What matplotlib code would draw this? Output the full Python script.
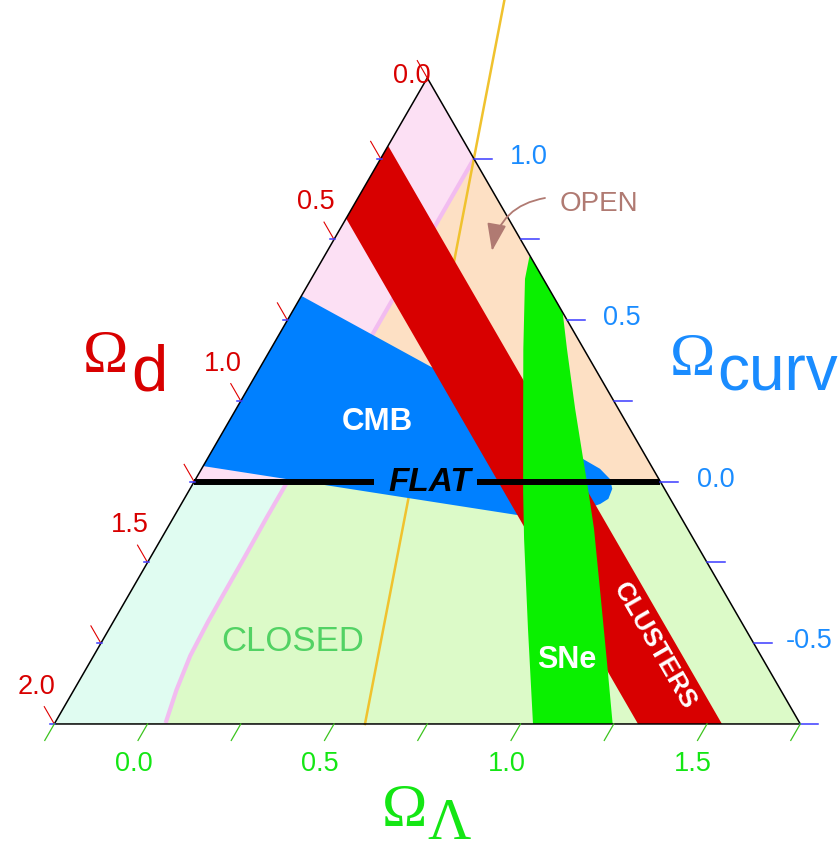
import numpy as np
import matplotlib.pyplot as plt
from matplotlib.patches import Polygon

# --- cosmic triangle data, all as (Omega_m, Omega_Lambda); Omega_k = 1 - Omega_m - Omega_Lambda ---
tri_om = [0.0, 2.0, 0.0]
tri_ol = [-0.25, -0.25, 1.75]

# expand forever / recollapse boundary
recollapse_om = [0.0, 1.0, 1.11, 1.23, 1.36, 1.43, 1.53, 1.62, 1.70]
recollapse_ol = [0.0, 0.0, 0.0, 0.002, 0.003, 0.004, 0.009, 0.025, 0.047]

# accelerating / decelerating boundary
accel_om = [-0.33, 1.167]
accel_ol = [-0.165, 0.583]

# cluster band in Omega_m
clusters_om = [0.21, 0.435]

# CMB region outline
cmb_om = [0.68, 0.430, 0.172, 0.142, 0.131, 0.140, 0.166, 0.196, 0.235, 0.318, 0.436, 1.21]
cmb_ol = [-0.26, 0.221, 0.758, 0.818, 0.861, 0.882, 0.887, 0.873, 0.847, 0.779, 0.667, -0.26]

# supernova region outline
sne_om = [0.004, 0.049, 0.162, 0.271, 0.384, 0.454, 0.583, 0.717,
          0.503, 0.421, 0.341, 0.251, 0.205, 0.172, 0.116, 0.045, -0.008, -0.103]
sne_ol = [0.301, 0.323, 0.427, 0.535, 0.648, 0.723, 0.873, 1.034,
          1.247, 1.134, 1.022, 0.895, 0.817, 0.758, 0.659, 0.544, 0.464, 0.321]

# axis ticks
om_ticks = [0.0, 0.25, 0.5, 0.75, 1.0, 1.25, 1.5, 1.75, 2.0]
om_labels = {0.0: '0.0', 0.5: '0.5', 1.0: '1.0', 1.5: '1.5', 2.0: '2.0'}
ok_ticks = [1.0, 0.75, 0.5, 0.25, 0.0, -0.25, -0.5, -0.75]
ok_labels = {1.0: '1.0', 0.5: '0.5', 0.0: '0.0', -0.5: '-0.5'}
ol_ticks = [-0.25, 0.0, 0.25, 0.5, 0.75, 1.0, 1.25, 1.5, 1.75]
ol_labels = {0.0: '0.0', 0.5: '0.5', 1.0: '1.0', 1.5: '1.5'}

# gap left in the flat line for its label (Omega_Lambda along Omega_k = 0)
flat_gap = (0.232, 0.509)

# colours
RED = '#d80000'
BLUE = '#0080ff'
SNE_GREEN = '#0af000'
PINK_BG = '#fce0f4'
PEACH_BG = '#fde0c4'
CYAN_BG = '#e0fcf1'
GREEN_BG = '#dcfac8'
PINK_LINE = '#f2bcf0'
ORANGE_LINE = '#f0c22e'
OPEN_COLOR = '#b07a72'
CLOSED_COLOR = '#52d264'
LBL_RED = '#d80000'
LBL_BLUE = '#1a8cff'
LBL_GREEN = '#14e614'

SANS = 'Liberation Sans'
SERIF = 'Liberation Serif'

SQ3 = np.sqrt(3.0)
S = 373.0              # pixels per unit
X0, Y0 = 473.9, 482.7  # pixel position of Omega_m = Omega_Lambda = 0.5
W, H = 840, 853


def tern(om, ol):
    om = np.asarray(om, float)
    ol = np.asarray(ol, float)
    ok = 1.0 - om - ol
    return 0.5 * (ol - om), SQ3 / 2 * ok


def at_px(px, py):
    return (px - X0) / S, (Y0 - py) / S


def poly(om, ol, **kw):
    x, y = tern(om, ol)
    return Polygon(np.column_stack([x, y]), closed=True, **kw)


fig = plt.figure(figsize=(W / 100, H / 100), dpi=100)
ax = fig.add_axes([0, 0, 1, 1])
ax.set_xlim(at_px(0, 0)[0], at_px(W, 0)[0])
ax.set_ylim(at_px(0, H)[1], at_px(0, 0)[1])
ax.axis('off')

tx, ty = tern(tri_om, tri_ol)
clip = Polygon(np.column_stack([tx, ty]), closed=True, transform=ax.transData)


def add_clipped(patch):
    ax.add_patch(patch)
    patch.set_clip_path(clip)


# open universe (above flat): pink where Omega_Lambda < 0, peach otherwise
ax.add_patch(poly([1.25, 0.0, 0.0], [-0.25, 1.0, -0.25], facecolor=PINK_BG, edgecolor='none', zorder=1))
ax.add_patch(poly([0, 1, 0], [0, 0, 1], facecolor=PEACH_BG, edgecolor='none', zorder=1.1))

# closed universe (below flat): green, with the recollapse side in cyan
ax.add_patch(poly([1.25, 0.0, 0.0, 2.0], [-0.25, 1.0, 1.75, -0.25],
                  facecolor=GREEN_BG, edgecolor='none', zorder=1))
cyan_om = [1.25] + recollapse_om[1:] + [2.0]
cyan_ol = [-0.25] + recollapse_ol[1:] + [-0.25]
add_clipped(poly(cyan_om, cyan_ol, facecolor=CYAN_BG, edgecolor='none', zorder=1.2))

# boundary lines
rx, ry = tern(recollapse_om, recollapse_ol)
ax.plot(rx, ry, color=PINK_LINE, lw=3.0, zorder=2, solid_capstyle='butt')
ax.plot(*tern(accel_om, accel_ol), color=ORANGE_LINE, lw=1.8, zorder=2.1)

# CMB
add_clipped(poly(cmb_om, cmb_ol, facecolor=BLUE, edgecolor='none', zorder=3))

# clusters band
c_lo, c_hi = clusters_om
add_clipped(poly([c_lo, c_lo, c_hi, c_hi], [-1.0, 2.5, 2.5, -1.0],
                 facecolor=RED, edgecolor='none', zorder=4))

# supernovae
add_clipped(poly(sne_om, sne_ol, facecolor=SNE_GREEN, edgecolor='none', zorder=5))

# flat universe line, broken for its label
g0, g1 = flat_gap
ax.plot(*tern([1.25, 1 - g0], [-0.25, g0]), color='black', lw=4.3, zorder=6, solid_capstyle='butt')
ax.plot(*tern([1 - g1, 0.0], [g1, 1.0]), color='black', lw=4.3, zorder=6, solid_capstyle='butt')

# triangle outline
ax.add_patch(Polygon(np.column_stack([tx, ty]), closed=True, fill=False,
                     edgecolor='black', lw=1.1, zorder=7, joinstyle='miter'))

# --- ticks ---
L = 20 / S
for t in om_ticks:
    x, y = tern(t, -0.25)
    ax.plot([x, x - 0.5 * L], [y, y + SQ3 / 2 * L], color='#e00000', lw=0.8, zorder=7)
    if t in om_labels:
        dx, dy = (-15, -3) if t == 0.0 else (-18, -38)
        ax.text(x + dx / S, y - dy / S, om_labels[t], color=LBL_RED, fontsize=19.5,
                family=SANS, ha='center', va='center', zorder=8)

for k in ok_ticks:
    x, y = tern(0.0, 1.0 - k)
    ax.plot([x, x + 18 / S], [y, y], color='#3a3aff', lw=1.1, zorder=7)
    # small companion ticks on the left edge
    xl, yl = tern(1.25 - k, -0.25)
    ax.plot([xl - 4 / S, xl + 1 / S], [yl, yl], color='#3a3aff', lw=1.1, zorder=7)
    if k in ok_labels:
        ax.text(x + 55 / S, y + 3 / S, ok_labels[k], color=LBL_BLUE, fontsize=19.5,
                family=SANS, ha='center', va='center', zorder=8)

for lam in ol_ticks:
    x, y = tern(1.75 - lam, lam)
    ax.plot([x, x - 0.5 * 19 / S], [y, y - SQ3 / 2 * 19 / S], color='#3cc41e', lw=0.9, zorder=7)
    if lam in ol_labels:
        ax.text(x - 14 / S, y - 39 / S, ol_labels[lam], color=LBL_GREEN, fontsize=19.5,
                family=SANS, ha='center', va='center', zorder=8)

# --- region labels ---
ax.text(*at_px(377.5, 430), 'CMB', color='white', fontsize=22.5, fontweight='bold',
        family=SANS, ha='center', va='baseline', zorder=8)
ax.text(*at_px(566.5, 668.3), 'SNe', color='white', fontsize=22, fontweight='bold',
        family=SANS, ha='center', va='baseline', zorder=8)
ax.text(*at_px(654, 646), 'CLUSTERS', color='white', fontsize=19, fontweight='bold',
        family=SANS, ha='center', va='center', rotation=-60, rotation_mode='anchor', zorder=8)
ax.text(*at_px(430, 491), 'FLAT', color='black', fontsize=24, fontweight='bold',
        fontstyle='italic', family=SANS, ha='center', va='baseline', zorder=8)
ax.text(*at_px(293, 650.7), 'CLOSED', color=CLOSED_COLOR, fontsize=25,
        family=SANS, ha='center', va='baseline', zorder=8)
ax.text(*at_px(559.3, 211), 'OPEN', color=OPEN_COLOR, fontsize=20,
        family=SANS, ha='left', va='baseline', zorder=8)
ax.annotate('', xy=at_px(492, 252), xytext=at_px(545, 199),
            arrowprops=dict(arrowstyle='-|>,head_length=1.0,head_width=0.35',
                            connectionstyle='arc3,rad=0.35', color=OPEN_COLOR,
                            lw=1.3, mutation_scale=17, shrinkA=0, shrinkB=0),
            zorder=8)

# --- axis titles ---
ax.text(*at_px(83, 372), '\u03a9', color=LBL_RED, fontsize=44, family=SERIF,
        ha='left', va='baseline')
ax.text(*at_px(131, 391), 'd', color=LBL_RED, fontsize=47, family=SANS,
        ha='left', va='baseline')
ax.text(*at_px(670, 375), '\u03a9', color=LBL_BLUE, fontsize=44, family=SERIF,
        ha='left', va='baseline')
ax.text(*at_px(717, 391), 'curv', color=LBL_BLUE, fontsize=46, family=SANS,
        ha='left', va='baseline')
ax.text(*at_px(382, 826), '\u03a9', color=LBL_GREEN, fontsize=44, family=SERIF,
        ha='left', va='baseline')
ax.text(*at_px(427, 839), '\u039b', color=LBL_GREEN, fontsize=43, family=SERIF,
        ha='left', va='baseline')

fig.savefig('out.png', dpi=100, facecolor='white')
